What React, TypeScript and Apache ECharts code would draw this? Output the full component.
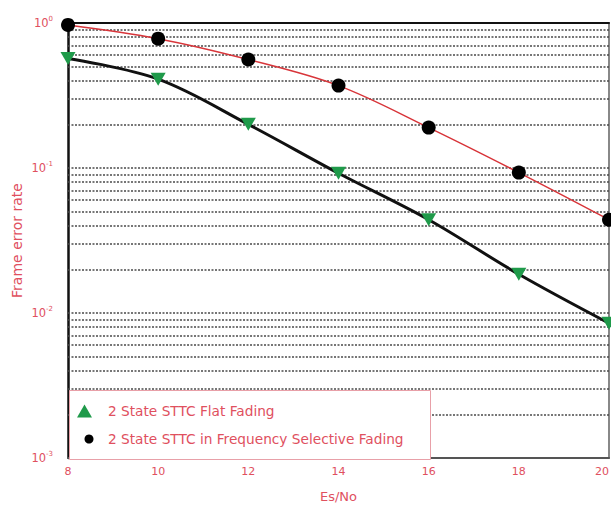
import React, { useEffect, useRef } from 'react';
import * as echarts from 'echarts';

const xValues = [8, 10, 12, 14, 16, 18, 20];
const flatFading = [0.57, 0.41, 0.2, 0.092, 0.044, 0.0185, 0.0085];
const freqSelective = [0.97, 0.78, 0.56, 0.37, 0.19, 0.093, 0.044];
const seriesNames = ['2 State STTC Flat Fading', '2 State STTC in Frequency Selective Fading'];
const gridDecades = [0.001, 0.01, 0.1];
const gridMultipliers = [2, 3, 4, 5, 6, 7, 8, 9];

const TEXT = '#e0505e';
const FONT = 'DejaVu Sans, sans-serif';

export default function App() {
  const ref = useRef<HTMLDivElement>(null);
  useEffect(() => {
    const chart = echarts.init(ref.current!, null, { renderer: 'svg' });
    const gridValues: number[] = [];
    gridDecades.forEach((d, i) => {
      if (i > 0) gridValues.push(d);
      gridMultipliers.forEach((m) => gridValues.push(+(d * m).toPrecision(3)));
    });
    const yFormatter = (v: number) => {
      const e = Math.round(Math.log10(v));
      return `{b|10}{e|${e}}`;
    };
    chart.setOption({
      animation: false,
      backgroundColor: '#fff',
      grid: { left: 68, right: 2, top: 23, bottom: 48, outerBoundsMode: 'none', containLabel: false },
      xAxis: [
        {
          type: 'value', min: 8, max: 20, interval: 2, position: 'bottom',
          name: 'Es/No', nameLocation: 'middle', nameGap: 32, nameMoveOverlap: false,
          nameTextStyle: { color: TEXT, fontSize: 13, fontFamily: FONT },
          axisLine: { show: true, lineStyle: { color: '#555', width: 2 } },
          axisTick: { show: false },
          axisLabel: { color: TEXT, fontSize: 11, fontFamily: FONT, margin: 8, alignMaxLabel: 'right' },
          splitLine: { show: false },
        },
        {
          type: 'value', min: 8, max: 20, interval: 2, position: 'top',
          axisLine: { show: true, lineStyle: { color: '#111', width: 2 } },
          axisTick: { show: false }, axisLabel: { show: false }, splitLine: { show: false },
        },
      ],
      yAxis: [
        {
          type: 'log', logBase: 10, min: 0.001, max: 1, position: 'left',
          name: 'Frame error rate', nameLocation: 'middle', nameGap: 44, nameMoveOverlap: false,
          nameTextStyle: { color: TEXT, fontSize: 14, fontFamily: FONT },
          axisLine: { show: true, lineStyle: { color: '#111', width: 2.5 } },
          axisTick: { show: false }, splitLine: { show: false },
          axisLabel: {
            formatter: yFormatter, margin: 15,
            rich: {
              b: { color: TEXT, fontSize: 11.5, fontFamily: FONT },
              e: { color: TEXT, fontSize: 7, fontFamily: FONT, padding: [0, 0, 8, 0] },
            },
          },
        },
        {
          type: 'log', logBase: 10, min: 0.001, max: 1, position: 'right',
          axisLine: { show: true, lineStyle: { color: '#888', width: 2 } },
          axisTick: { show: false }, axisLabel: { show: false }, splitLine: { show: false },
        },
      ],
      legend: [
        {
          data: [{ name: seriesNames[0], icon: 'triangle' }],
          left: 77, top: 404, padding: 0, itemWidth: 15, itemHeight: 13,
          selectedMode: false, z: 20,
          textStyle: { color: TEXT, fontSize: 13.7, fontFamily: FONT, padding: [0, 0, 0, 11] },
        },
        {
          data: [{ name: seriesNames[1], icon: 'circle' }],
          left: 84.5, top: 432, padding: 0, itemWidth: 9, itemHeight: 9,
          selectedMode: false, z: 20,
          textStyle: { color: TEXT, fontSize: 13.7, fontFamily: FONT, padding: [0, 0, 0, 9.5] },
        },
      ],
      graphic: [
        {
          type: 'rect', left: 69, top: 390, z: 15,
          shape: { width: 361, height: 69 },
          style: { fill: '#fff', stroke: '#e8a0a8', lineWidth: 1 },
        },
      ],
      series: [
        {
          name: seriesNames[1], type: 'line',
          data: xValues.map((x, i) => [x, freqSelective[i]]),
          smooth: 0.35, symbol: 'circle', symbolSize: 14,
          lineStyle: { color: '#d8353a', width: 1.5 },
          itemStyle: { color: '#000' }, z: 3,
          markLine: {
            silent: true, symbol: ['none', 'none'], label: { show: false }, z: 1,
            precision: 8,
            lineStyle: { type: [2, 1.5], color: '#4a4a4a', width: 1.5 },
            emphasis: { disabled: true },
            data: gridValues.map((v) => ({ yAxis: v })),
          },
        },
        {
          name: seriesNames[0], type: 'line',
          data: xValues.map((x, i) => [x, flatFading[i]]),
          smooth: 0.35, symbol: 'triangle', symbolRotate: 180, symbolSize: [15, 13],
          lineStyle: { color: '#111', width: 3 },
          itemStyle: { color: '#1f9a4a' }, z: 4,
        },
      ],
    });
    return () => chart.dispose();
  }, []);
  return (
    <div
      ref={ref}
      style={{ position: 'fixed', left: 0, top: 0, width: 611, height: 506, background: '#fff' }}
    />
  );
}
